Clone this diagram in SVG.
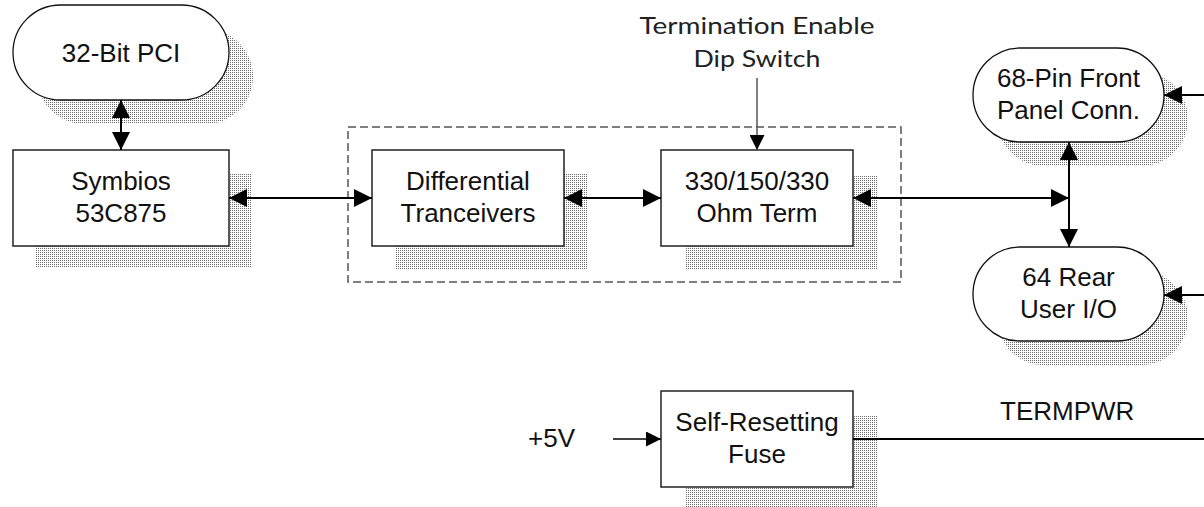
<svg xmlns="http://www.w3.org/2000/svg" width="1204" height="507" viewBox="0 0 1204 507">
<style>
.box{fill:#fff;stroke:#222;stroke-width:1.5}
.pill{fill:#fff;stroke:#111;stroke-width:1.3}
.sh{fill:url(#dots);stroke:none}
.t{font-family:"Liberation Sans",Arial,sans-serif;font-size:26px;fill:#111;text-anchor:middle}
.tl{font-family:"Liberation Sans",Arial,sans-serif;font-size:26px;fill:#111}
.g{font-family:Lato,"DejaVu Sans",sans-serif;font-size:23px;fill:#222;text-anchor:middle}
.c{stroke:#000;stroke-width:2;fill:none}
.cs{stroke:#000;stroke-width:1.3;fill:none}
</style>
<defs>
<pattern id="dots" width="2" height="2" patternUnits="userSpaceOnUse">
<rect width="2" height="2" fill="#fff"/>
<rect width="1" height="1" fill="#6a6a6a"/>
</pattern>
<marker id="ah" viewBox="0 0 18 18" refX="18" refY="9" markerWidth="18" markerHeight="18" markerUnits="userSpaceOnUse" orient="auto-start-reverse">
<path d="M0,0 L18,9 L0,18 Z" fill="#000"/>
</marker>
<marker id="as" viewBox="0 0 15 15" refX="15" refY="7.5" markerWidth="15" markerHeight="15" markerUnits="userSpaceOnUse" orient="auto">
<path d="M0,0 L15,7.5 L0,15 Z" fill="#000"/>
</marker>
</defs>
<rect width="1204" height="507" fill="#fff"/>

<rect id="group-frame" x="348" y="127" width="553" height="155" fill="none" stroke="#555" stroke-width="1.5" stroke-dasharray="8 4"/>

<g id="pci">
<rect class="sh" x="37" y="29" width="216" height="95" rx="47.5"/>
<rect class="pill" x="13" y="5" width="216" height="95" rx="47.5"/>
<text class="t" x="121" y="62">32-Bit PCI</text>
</g>

<g id="symbios">
<rect class="sh" x="36" y="174" width="216" height="94"/>
<rect class="box" x="13" y="150" width="216" height="96"/>
<text class="t" x="121" y="190">Symbios</text>
<text class="t" x="121" y="222">53C875</text>
</g>

<g id="differential">
<rect class="sh" x="396" y="174" width="192" height="95"/>
<rect class="box" x="372" y="150" width="192" height="96"/>
<text class="t" x="468" y="190">Differential</text>
<text class="t" x="468" y="222">Tranceivers</text>
</g>

<g id="ohmterm">
<rect class="sh" x="685" y="175" width="192" height="95"/>
<rect class="box" x="661" y="150" width="192" height="96"/>
<text class="t" x="757" y="190">330/150/330</text>
<text class="t" x="757" y="222">Ohm Term</text>
</g>

<g id="dipswitch">
<text class="g" x="757" y="34" textLength="235" lengthAdjust="spacingAndGlyphs">Termination Enable</text>
<text class="g" x="757" y="67" textLength="127" lengthAdjust="spacingAndGlyphs">Dip Switch</text>
</g>

<g id="frontpanel">
<rect class="sh" x="997" y="72" width="191" height="94" rx="47"/>
<rect class="pill" x="973" y="48" width="191" height="94" rx="47"/>
<text class="t" x="1068.5" y="87">68-Pin Front</text>
<text class="t" x="1068.5" y="119">Panel Conn.</text>
</g>

<g id="rearuserio">
<rect class="sh" x="997" y="271" width="191" height="94" rx="47"/>
<rect class="pill" x="973" y="247" width="191" height="94" rx="47"/>
<text class="t" x="1068.5" y="286">64 Rear</text>
<text class="t" x="1068.5" y="318">User I/O</text>
</g>

<g id="fuse">
<rect class="sh" x="686" y="416" width="191" height="95"/>
<rect class="box" x="661" y="391" width="192" height="96"/>
<text class="t" x="757" y="431">Self-Resetting</text>
<text class="t" x="757" y="463">Fuse</text>
</g>

<g id="plus5v">
<text class="tl" x="528" y="447">+5V</text>
</g>

<g id="termpwr">
<text class="tl" x="1000" y="420">TERMPWR</text>
</g>

<g id="connectors">
<line class="c" x1="121" y1="100" x2="121" y2="150" marker-start="url(#ah)" marker-end="url(#ah)"/>
<line class="c" x1="229" y1="198" x2="372" y2="198" marker-start="url(#ah)" marker-end="url(#ah)"/>
<line class="c" x1="564" y1="198" x2="661" y2="198" marker-start="url(#ah)" marker-end="url(#ah)"/>
<line class="c" x1="853" y1="198" x2="1069" y2="198" marker-start="url(#ah)" marker-end="url(#ah)"/>
<line class="c" x1="1069" y1="142" x2="1069" y2="247" marker-start="url(#ah)" marker-end="url(#ah)"/>
<line class="c" x1="1204" y1="95" x2="1164" y2="95" marker-end="url(#ah)"/>
<line class="c" x1="1204" y1="295" x2="1164" y2="295" marker-end="url(#ah)"/>
<line x1="757" y1="78" x2="757" y2="150" stroke="#555" stroke-width="1.5" marker-end="url(#as)"/>
<line class="cs" x1="613" y1="439" x2="661" y2="439" marker-end="url(#as)"/>
<line class="c" x1="853" y1="439" x2="1204" y2="439"/>
</g>
</svg>
